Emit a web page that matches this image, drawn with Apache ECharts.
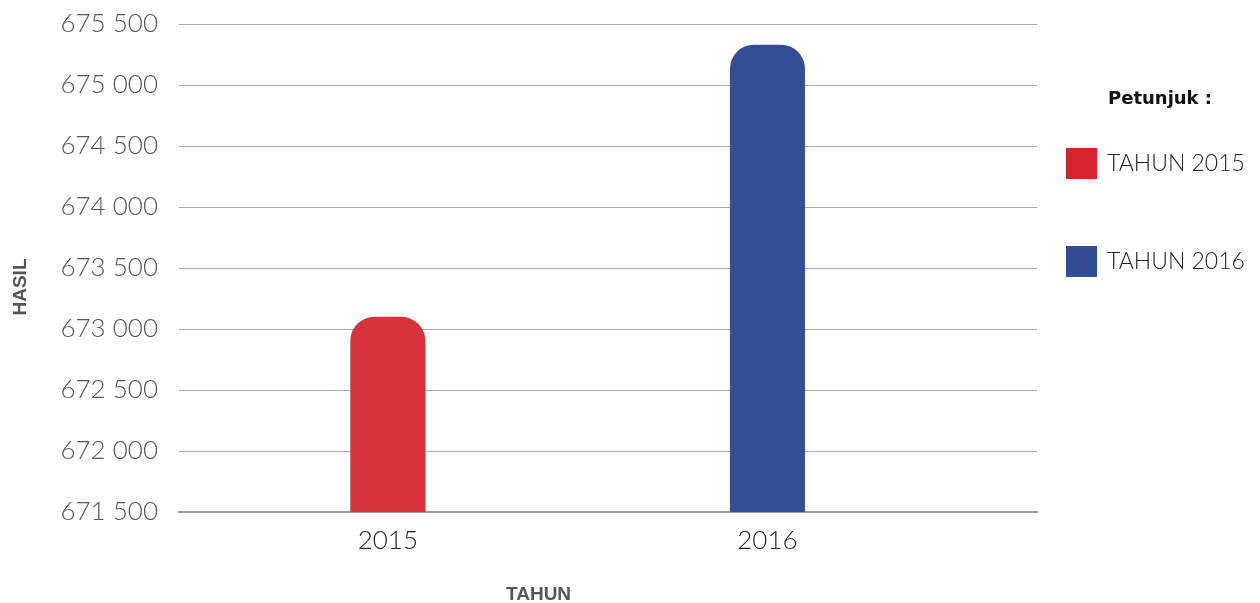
<!DOCTYPE html>
<html>
<head>
<meta charset="utf-8">
<script src="https://cdn.jsdelivr.net/npm/echarts@6/dist/echarts.min.js"></script>
<style>
html,body{margin:0;padding:0;background:#fff;}
#c{width:1260px;height:603px;}
</style>
</head>
<body>
<div id="c"></div>
<script>
const categories = ['2015', '2016'];
const seriesNames = ['TAHUN 2015', 'TAHUN 2016'];
const values = [673100, 675330];
const barColors = ['#D6333B', '#344E96'];
const legendColors = ['#D4232B', '#334C94'];
const xAxisTitle = 'TAHUN';
const yAxisTitle = 'HASIL';
const legendTitle = 'Petunjuk :';

const chart = echarts.init(document.getElementById('c'));
const fontFam = 'Lato, "Open Sans", sans-serif';
const boldFam = '"Liberation Sans", Arial, sans-serif';

function fmt(v){
  return String(Math.round(v)).replace(/\B(?=(\d{3})+(?!\d))/g, ' ');
}

const series = categories.map((cat, i) => ({
  name: seriesNames[i],
  type: 'bar',
  barWidth: 75,
  barGap: '-100%',
  data: [[Number(cat), values[i]]],
  itemStyle: { color: barColors[i], borderRadius: [24, 24, 0, 0] },
  clip: true
}));

chart.setOption({
  animation: false,
  title: {
    text: legendTitle,
    left: 1108, top: 90, padding: 0,
    textStyle: { fontFamily: '"DejaVu Sans", sans-serif', fontSize: 18, fontWeight: 'bold', color: '#111' }
  },
  legend: {
    orient: 'vertical',
    left: 1066, top: 148, padding: 0,
    itemWidth: 31, itemHeight: 31, itemGap: 67,
    icon: 'rect',
    data: seriesNames.map((n, i) => ({ name: n, itemStyle: { color: legendColors[i] } })),
    textStyle: { fontFamily: fontFam, fontSize: 23, fontWeight: 300, color: '#222', padding: [0, 0, 0, 5] }
  },
  graphic: [
    { type: 'text', left: 540 - 34, top: 585,
      style: { text: xAxisTitle, font: 'bold 19px ' + boldFam, fill: '#555' } },
    { type: 'text', x: 21, y: 287, rotation: Math.PI / 2,
      style: { text: yAxisTitle, font: 'bold 19px ' + boldFam, fill: '#555', align: 'center', verticalAlign: 'middle' } }
  ],
  grid: { left: 179, right: 223, top: 24, bottom: 91, outerBoundsMode: 'none', containLabel: false },
  xAxis: {
    type: 'value',
    min: 2014.45, max: 2016.71,
    splitLine: { show: false },
    axisTick: { show: false },
    axisLine: { show: true, lineStyle: { color: '#999', width: 2 } },
    axisLabel: {
      customValues: categories.map(Number),
      formatter: v => String(v),
      fontFamily: fontFam, fontSize: 26, fontWeight: 300, color: '#222', margin: 16
    }
  },
  yAxis: {
    type: 'value',
    min: 671500, max: 675500, interval: 500,
    axisLine: { show: false },
    axisTick: { show: false },
    splitLine: { lineStyle: { color: '#aaa', width: 1 } },
    axisLabel: {
      formatter: v => fmt(v),
      fontFamily: fontFam, fontSize: 26, fontWeight: 300, color: '#555', margin: 21
    }
  },
  series: series
});
</script>
</body>
</html>
